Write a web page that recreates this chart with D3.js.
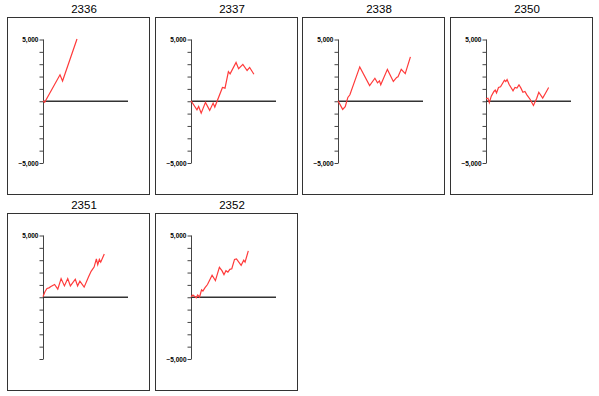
<!DOCTYPE html>
<html>
<head>
<meta charset="utf-8">
<script src="https://cdn.jsdelivr.net/npm/d3@7"></script>
<style>
    body { margin: 0; background: #fff; }
    svg { display: block; }
    .title { font-family: "Liberation Sans", Arial, sans-serif; font-size: 11.5px; fill: #000; }
    .y-axis text { font-family: "Liberation Sans", Arial, sans-serif; font-size: 6.5px; font-weight: bold; fill: #000; }
</style>
</head>
<body>
<svg id="chart" width="599" height="396"></svg>
<script>
(function () {
    'use strict';

    // panel titles, in reading order
    let panelNames = ['2336', '2337', '2338', '2350', '2351', '2352'];

    // cumulative value series, [step, value], step runs 0..100 along the zero line
    let s2336 = [[0, 0], [2, -130], [20, 2100], [23, 1600], [40, 5000]];
    let s2337 = [[0, 0], [7, -730], [9, -460], [12, -1000], [17, -130], [22, -780], [26, -190],
        [28, -510], [37, 1080], [40, 1020], [44, 2350], [46, 2180], [53, 3100], [56, 2600],
        [61, 2950], [66, 2450], [69, 2700], [74, 2150]];
    let s2338 = [[0, 0], [5.5, -700], [8.5, -480], [11.6, 270], [14, 480], [25.6, 2740],
        [37.2, 1230], [43.4, 1820], [46.5, 1450], [48.8, 1610], [50.3, 1290], [58.1, 2540],
        [65.1, 1560], [69, 1890], [70.6, 1940], [74.4, 2540], [79.1, 2200], [85.2, 3550]];
    let s2350 = [[0, 160], [2.3, 210], [3.9, -160], [6.2, 370], [9.3, 750], [10.9, 860],
        [12.4, 640], [14.7, 1070], [17.1, 1130], [19.4, 1400], [21.7, 1660], [23.3, 1560],
        [24.8, 1720], [27.1, 1340], [31.8, 800], [34.1, 1070], [36.4, 1020], [38.8, 1290],
        [41.1, 1020], [43.4, 690], [45.8, 750], [48.1, 480], [52, 100], [55.8, -380],
        [59.7, 210], [62.1, 690], [66.7, 210], [69.8, 590], [73.7, 1070]];
    let s2351 = [[0, 0], [2.3, 400], [4.7, 670], [7, 720], [9.3, 830], [13.6, 990], [17.4, 620],
        [21.3, 1470], [25.2, 880], [29.1, 1470], [32.2, 880], [38, 1420], [40.7, 880],
        [43.4, 1260], [48.4, 780], [53.5, 1600], [56.6, 2060], [60.1, 2400], [62.8, 3070],
        [64.4, 2590], [66.3, 3020], [67.9, 2800], [72.1, 3470]];
    let s2352 = [[0, 0], [2.3, 140], [6.2, -80], [7.8, 140], [10.1, -20], [12.4, 560], [14, 460],
        [16.3, 720], [19.4, 990], [24.8, 1740], [28.7, 1310], [33.4, 2380], [36.4, 2110],
        [38.8, 1790], [41.1, 2110], [43.4, 2000], [45.7, 2220], [48, 2270], [51.2, 3020],
        [53.5, 3070], [59, 2540], [62, 2960], [63.6, 2800], [67.4, 3710]];
    let panelSeries = [s2336, s2337, s2338, s2350, s2351, s2352];

    // y ticks every 1000, labels only on some of them
    let yTicks = d3.range(-5000, 5001, 1000);
    let labelledTicks = [[5000, -5000], [5000, -5000], [5000, -5000], [5000, -5000], [5000], [5000, -5000]];

    let boxW = 142, boxH = 177;
    let colStep = 147.5, rowStep = 196;
    let left0 = 7, top0 = 17;

    let x = d3.scaleLinear().domain([0, 100]).range([36, 121]);
    let y = d3.scaleLinear().domain([-5000, 5000]).range([145.5, 22]);
    let fmt = d3.format(',');

    let svg = d3.select('#chart');

    let panels = svg.selectAll('g.panel')
        .data(panelNames)
        .enter()
        .append('g')
        .attr('class', 'panel')
        .attr('transform', function (d, i) {
            let px = Math.round(left0 + (i % 4) * colStep);
            let py = top0 + Math.floor(i / 4) * rowStep;
            return 'translate(' + px + ',' + py + ')';
        });

    panels.append('rect')
        .attr('x', 0.5)
        .attr('y', 0.5)
        .attr('width', boxW)
        .attr('height', boxH)
        .style('fill', 'none')
        .style('stroke', '#333')
        .style('stroke-width', 1);

    panels.append('text')
        .attr('class', 'title')
        .attr('x', 77)
        .attr('y', -4.5)
        .attr('text-anchor', 'middle')
        .text(function (d) { return d; });

    panels.each(function (name, i) {
        let g = d3.select(this);
        let labels = labelledTicks[i];

        let yAxis = d3.axisLeft(y)
            .tickValues(yTicks)
            .tickSize(4)
            .tickPadding(1)
            .tickFormat(function (v) {
                return labels.indexOf(v) >= 0 ? fmt(v) : '';
            });

        let axisG = g.append('g')
            .attr('class', 'y-axis')
            .attr('transform', 'translate(' + (x(0) + 0.5) + ',0.5)')
            .call(yAxis);
        axisG.select('.domain')
            .attr('d', 'M0,' + y(5000) + 'V' + y(-5000))
            .style('stroke', '#444');
        axisG.selectAll('.tick line').style('stroke', '#444');

        // zero line
        g.append('line')
            .attr('x1', x(0))
            .attr('x2', x(100))
            .attr('y1', y(0) + 0.5)
            .attr('y2', y(0) + 0.5)
            .style('stroke', '#333')
            .style('stroke-width', 1.3);

        let line = d3.line()
            .x(function (d) { return x(d[0]); })
            .y(function (d) { return y(d[1]); });

        g.append('path')
            .datum(panelSeries[i])
            .attr('d', line)
            .style('fill', 'none')
            .style('stroke', '#ff3a3a')
            .style('stroke-width', 1.2);
    });
})();
</script>
</body>
</html>
